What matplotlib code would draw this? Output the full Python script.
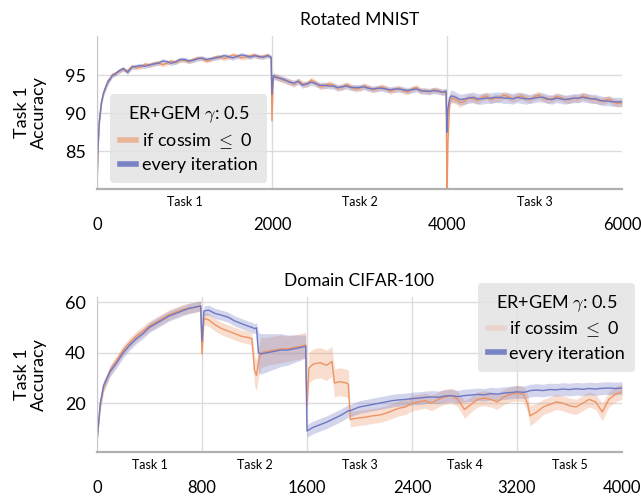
import matplotlib
matplotlib.use("Agg")
import matplotlib.pyplot as plt
import numpy as np

plt.rcParams['font.family'] = ['Lato', 'DejaVu Sans']
plt.rcParams['mathtext.fontset'] = 'cm'

ORANGE = '#ec9463'
BLUE = '#6e77c4'

# ---- Rotated MNIST (3 tasks, 2000 steps each) ----
mnist_steps = [0, 10, 25, 50, 75, 100, 125, 150, 175, 200, 250, 300, 350, 400, 450, 500, 550, 600,
               650, 700, 750, 800, 850, 900, 950, 1000, 1050, 1100, 1150, 1200, 1250, 1300,
               1350, 1400, 1450, 1500, 1550, 1600, 1650, 1700, 1750, 1800, 1850, 1900, 1950, 1990,
               2000, 2015, 2050, 2100, 2150, 2200, 2250, 2300, 2350, 2400, 2450, 2500, 2550,
               2600, 2650, 2700, 2750, 2800, 2850, 2900, 2950, 3000, 3050, 3100, 3150, 3200,
               3250, 3300, 3350, 3400, 3450, 3500, 3550, 3600, 3650, 3700, 3750, 3800, 3850,
               3900, 3950, 3990,
               4000, 4010, 4030, 4050, 4100, 4150, 4200, 4250, 4300, 4350, 4400, 4450, 4500,
               4550, 4600, 4650, 4700, 4750, 4800, 4850, 4900, 4950, 5000, 5050, 5100, 5150,
               5200, 5250, 5300, 5350, 5400, 5450, 5500, 5550, 5600, 5650, 5700, 5750, 5800,
               5850, 5900, 5950, 6000]
mnist_orange = [80.2, 84.5, 88.5, 91.3, 92.6, 93.4, 94.3, 94.6, 95.1, 95.2, 95.5, 95.8, 95.6, 96.2, 96.0,
                96.1, 96.5, 96.3, 96.6, 96.7, 96.4, 96.6, 96.9, 96.7, 97.0, 97.0, 96.8, 97.1, 97.3,
                97.2, 96.9, 97.1, 97.4, 97.5, 97.2, 97.4, 97.7, 97.6, 97.3, 97.4, 97.6, 97.7, 97.4,
                97.5, 97.7, 97.3,
                89.0, 94.7, 94.9, 94.5, 94.3, 94.2, 93.8, 94.3, 93.9, 93.8, 94.4, 94.0, 93.5,
                93.6, 93.9, 93.7, 93.3, 93.4, 93.8, 93.5, 93.2, 93.3, 93.6, 93.4, 93.1, 93.2,
                93.5, 93.3, 92.9, 93.1, 93.3, 93.0, 92.8, 93.2, 93.4, 92.9, 93.0, 92.8, 93.1,
                93.0, 92.7, 92.9,
                79.0, 86.0, 91.2, 92.0, 91.8, 91.4, 91.6, 92.1, 91.9, 91.7, 92.1, 92.3, 91.8,
                92.0, 92.0, 92.4, 92.2, 91.9, 92.1, 92.3, 92.0, 91.8, 92.2, 92.4, 92.0, 91.8,
                91.9, 92.2, 92.1, 91.8, 91.8, 92.0, 91.9, 92.3, 92.1, 91.9, 91.8, 91.6, 91.7,
                91.9, 91.5, 91.3, 91.4]
mnist_orange_sd = [0.5, 0.5, 0.5, 0.4, 0.4, 0.4, 0.4, 0.3, 0.3, 0.3, 0.3, 0.3, 0.3, 0.3, 0.3,
                   0.3, 0.3, 0.3, 0.3, 0.3, 0.3, 0.3, 0.3, 0.3, 0.3, 0.3, 0.3, 0.3, 0.3,
                   0.3, 0.3, 0.3, 0.3, 0.3, 0.3, 0.3, 0.3, 0.3, 0.3, 0.3, 0.3, 0.3, 0.3,
                   0.3, 0.3, 0.3,
                   1.0, 0.4, 0.4, 0.4, 0.4, 0.4, 0.4, 0.4, 0.4, 0.4, 0.4, 0.4, 0.4,
                   0.4, 0.4, 0.4, 0.4, 0.4, 0.4, 0.4, 0.4, 0.4, 0.4, 0.4, 0.4, 0.4,
                   0.4, 0.4, 0.4, 0.4, 0.4, 0.4, 0.4, 0.4, 0.4, 0.4, 0.4, 0.4, 0.4,
                   0.4, 0.4, 0.4,
                   0.5, 1.0, 0.7, 0.6, 0.6, 0.6, 0.5, 0.5, 0.5, 0.5, 0.5, 0.5, 0.5,
                   0.5, 0.5, 0.5, 0.5, 0.5, 0.5, 0.5, 0.5, 0.5, 0.5, 0.5, 0.5, 0.5,
                   0.5, 0.5, 0.5, 0.5, 0.5, 0.5, 0.5, 0.5, 0.5, 0.5, 0.5, 0.5, 0.5,
                   0.5, 0.5, 0.5, 0.5]
mnist_blue = [80.4, 85.0, 88.8, 91.4, 92.7, 93.5, 94.1, 94.5, 95.0, 95.1, 95.6, 95.9, 95.4, 96.1, 96.2,
              96.3, 96.2, 96.4, 96.5, 96.6, 96.9, 96.8, 96.6, 96.8, 97.1, 97.1, 96.9, 97.0, 97.2,
              97.3, 97.1, 97.2, 97.3, 97.4, 97.6, 97.5, 97.3, 97.5, 97.7, 97.6, 97.4, 97.6, 97.5,
              97.4, 97.6, 97.4,
              92.5, 95.0, 94.7, 94.6, 94.4, 94.1, 94.0, 94.2, 93.7, 93.9, 94.1, 93.9, 93.7,
              93.7, 93.6, 93.6, 93.4, 93.5, 93.6, 93.4, 93.4, 93.4, 93.5, 93.3, 93.2, 93.3,
              93.3, 93.2, 93.1, 93.2, 93.2, 93.1, 93.0, 93.1, 93.2, 93.0, 92.9, 92.9, 93.0,
              92.9, 92.8, 92.9,
              87.5, 90.5, 92.0, 92.3, 92.1, 91.8, 91.9, 92.0, 92.1, 91.9, 91.9, 92.0, 92.0,
              92.1, 92.1, 92.0, 92.0, 91.9, 92.1, 92.0, 91.9, 91.9, 92.0, 92.1, 92.1, 91.9,
              91.8, 92.0, 91.9, 91.8, 91.9, 92.0, 92.0, 92.1, 92.0, 91.9, 91.9, 91.7, 91.6,
              91.6, 91.5, 91.5, 91.5]
mnist_blue_sd = [0.5, 0.5, 0.5, 0.4, 0.4, 0.4, 0.4, 0.3, 0.3, 0.3, 0.3, 0.3, 0.3, 0.3, 0.3,
                 0.3, 0.3, 0.3, 0.3, 0.3, 0.3, 0.3, 0.3, 0.3, 0.3, 0.3, 0.3, 0.3, 0.3,
                 0.3, 0.3, 0.3, 0.3, 0.3, 0.3, 0.3, 0.3, 0.3, 0.3, 0.3, 0.3, 0.3, 0.3,
                 0.3, 0.3, 0.3,
                 0.8, 0.4, 0.4, 0.4, 0.4, 0.4, 0.4, 0.4, 0.4, 0.4, 0.4, 0.4, 0.4,
                 0.4, 0.4, 0.4, 0.4, 0.4, 0.4, 0.4, 0.4, 0.4, 0.4, 0.4, 0.4, 0.4,
                 0.4, 0.4, 0.4, 0.4, 0.4, 0.4, 0.4, 0.4, 0.4, 0.4, 0.4, 0.4, 0.4,
                 0.4, 0.4, 0.4,
                 1.0, 0.9, 0.8, 0.8, 0.7, 0.7, 0.7, 0.7, 0.7, 0.7, 0.7, 0.7, 0.7,
                 0.7, 0.7, 0.7, 0.7, 0.7, 0.7, 0.7, 0.7, 0.6, 0.6, 0.6, 0.6, 0.6,
                 0.6, 0.6, 0.6, 0.6, 0.6, 0.6, 0.6, 0.6, 0.6, 0.6, 0.6, 0.6, 0.6,
                 0.6, 0.6, 0.6, 0.6]
mnist_ticks = [0, 2000, 4000, 6000]
mnist_task_pos = [1000, 3000, 5000]
mnist_task_labels = ['Task 1', 'Task 2', 'Task 3']

# ---- Domain CIFAR-100 (5 tasks, 800 steps each) ----
cifar_steps = [0, 25, 50, 100, 150, 200, 250, 300, 350, 400, 450, 500, 550, 600, 650, 700, 750, 790,
               800, 815, 850, 900, 950, 1000, 1050, 1100, 1150, 1180, 1200, 1215, 1230, 1250,
               1300, 1350, 1400, 1450, 1500, 1550, 1590,
               1600, 1615, 1650, 1700, 1750, 1790, 1810, 1850, 1900, 1915, 1930, 1950,
               2000, 2050, 2100, 2150, 2200, 2250, 2300, 2350, 2400, 2450, 2500, 2550, 2600,
               2650, 2700, 2750, 2800, 2850, 2900, 2950, 3000, 3050, 3100, 3150, 3200,
               3250, 3280, 3300, 3350, 3400, 3450, 3500, 3550, 3600, 3650, 3700, 3750,
               3800, 3850, 3900, 3950, 4000]
cifar_orange = [5.5, 19, 26, 33, 37, 41, 44, 46.5, 48.5, 50.5, 52, 53.5, 55, 56, 57, 57.5, 58, 58.5,
                39.5, 53.5, 53, 51, 49.5, 48.5, 47.5, 46.5, 46, 45.5, 33, 31, 36, 40,
                40.5, 41, 41.5, 41.5, 42, 42.5, 43,
                19, 34, 35.5, 36, 35, 36.5, 28, 28.5, 28, 27.5, 13.5, 13.8,
                14.2, 14.5, 15, 15.3, 16, 17, 18, 18.5, 20, 20.5, 21, 20, 21.5,
                22.5, 23, 21.5, 17.5, 19.5, 21.5, 22, 21.5, 20.5, 22.5, 23.5, 24,
                23.5, 20, 15, 16.5, 18.5, 19.5, 20.5, 20, 19, 18.5, 20, 21.5,
                20.5, 16.5, 21.5, 23.5, 24.5]
cifar_orange_sd = [1.5, 2, 2, 2, 2, 2, 2, 2, 2, 2, 2, 2, 2, 2, 2, 2, 2, 2,
                   3, 2.5, 2.5, 2.5, 2.5, 2.5, 2.5, 2.5, 2.5, 2.5, 6, 6, 6, 6,
                   5.5, 5.5, 5.5, 5, 5, 5, 5,
                   3, 6, 6, 6, 6, 6, 5.5, 5.5, 5.5, 5.5, 3, 3,
                   3, 3, 3, 3, 3, 3, 3, 3, 3, 3, 3, 3, 3,
                   3, 3, 3, 3.5, 3, 3, 3, 3, 3, 3, 3, 3,
                   3, 3.5, 4, 3.5, 3, 3, 3, 3, 3, 3, 3, 3,
                   3, 3.5, 3, 3, 3]
cifar_blue = [5, 20, 27, 32.5, 36, 40, 43, 45.5, 47.5, 50, 51.5, 53, 54.5, 55.5, 56.5, 57.5, 58, 58.5,
              44.5, 56.5, 56.8, 55.5, 54.8, 54, 52.5, 51.5, 50.5, 50, 49.5, 49.8, 40, 39.5,
              40, 40.5, 41, 41, 41.5, 42, 42.5,
              9, 9.5, 10.5, 11.5, 12.5, 13.5, 14, 15, 16.5, 17, 17, 17.5,
              18.5, 19, 19.5, 20, 20.5, 21, 21.3, 21.5, 21.8, 22, 22.3, 22.5, 22.3,
              22.8, 23, 22.6, 23, 23.2, 23.5, 23.3, 23.8, 23.6, 24, 24.2, 24.5,
              24.3, 24.6, 25, 25.2, 25, 25.4, 25.3, 25.6, 25.4, 25.7, 25.5, 25.8,
              25.6, 25.9, 26, 25.8, 26]
cifar_blue_sd = [1.5, 2, 2, 2, 2, 2, 2, 2, 2, 2, 2, 2, 2, 2, 2, 2, 2, 2,
                 2, 2, 2, 2, 2, 2, 2, 2, 2, 2, 2, 2, 8, 8,
                 7.5, 7, 6.5, 6, 5.5, 5, 4.5,
                 2.5, 2.5, 2.5, 2.5, 2.5, 2.5, 2.5, 2.5, 2.5, 2.5, 2.5, 2.5,
                 2.5, 2.5, 2.5, 2.5, 2.5, 2.5, 2.5, 2.5, 2.5, 2.5, 2.5, 2.5, 2.5,
                 2.5, 2.5, 2.5, 2.5, 2.5, 2.5, 2.5, 2.5, 2.5, 2.5, 2.5, 2.5,
                 2.5, 2.5, 2.5, 2.5, 2.5, 2.5, 2.5, 2.5, 2.5, 2.5, 2.5, 2.5,
                 2.5, 2.5, 2.5, 2.5, 2.5]
cifar_ticks = [0, 800, 1600, 2400, 3200, 4000]
cifar_task_pos = [400, 1200, 2000, 2800, 3600]
cifar_task_labels = ['Task 1', 'Task 2', 'Task 3', 'Task 4', 'Task 5']

legend_title = r'ER+GEM $\gamma$: 0.5'
series_labels = [r'if cossim $\leq$ 0', 'every iteration']

fig = plt.figure(figsize=(6.41, 5.04), dpi=100)
ax1 = fig.add_axes([0.1513, 0.625, 0.819, 0.3036])
ax2 = fig.add_axes([0.1513, 0.1032, 0.819, 0.3075])


def draw_panel(ax, steps, means, sds, colors, title, ticks, task_pos, task_labels, yticks, ylim):
    x = np.array(steps)
    for m, s, c in zip(means, sds, colors):
        m = np.array(m)
        s = np.array(s)
        ax.fill_between(x, m - s, m + s, color=c, alpha=0.3, lw=0)
        ax.plot(x, m, color=c, lw=1.0)
    ax.set_xlim(ticks[0], ticks[-1])
    ax.set_ylim(*ylim)
    ax.set_yticks(yticks)
    ax.set_xticks(ticks)
    ax.set_xticks(task_pos, minor=True)
    ax.set_xticklabels(task_labels, minor=True, fontsize=9)
    ax.tick_params(axis='x', which='major', length=0, pad=20, labelsize=12)
    ax.tick_params(axis='x', which='minor', length=0, pad=5)
    ax.tick_params(axis='y', length=0, pad=8, labelsize=13)
    ax.grid(True, which='major', color='#dcdcdc', lw=1.0)
    ax.set_axisbelow(True)
    # hide the grid line that sits on the right edge
    ax.xaxis.get_gridlines()[-1].set_visible(False)
    for side in ['top', 'right']:
        ax.spines[side].set_visible(False)
    ax.spines['left'].set_color('#c8c8c8')
    ax.spines['bottom'].set_color('#b0b0b0')
    ax.spines['bottom'].set_linewidth(1.6)
    ax.set_title(title, fontsize=12.5, pad=8)
    ax.set_ylabel('Task 1\nAccuracy', fontsize=13, linespacing=1.1)
    ax.yaxis.set_label_coords(-0.095, 0.5)


assert len(mnist_steps) == len(mnist_orange) == len(mnist_blue) == len(mnist_orange_sd) == len(mnist_blue_sd)
assert len(cifar_steps) == len(cifar_orange) == len(cifar_blue) == len(cifar_orange_sd) == len(cifar_blue_sd)

draw_panel(ax1, mnist_steps, [mnist_orange, mnist_blue], [mnist_orange_sd, mnist_blue_sd],
           [ORANGE, BLUE], 'Rotated MNIST', mnist_ticks, mnist_task_pos, mnist_task_labels,
           [85, 90, 95], (80, 100.2))
draw_panel(ax2, cifar_steps, [cifar_orange, cifar_blue], [cifar_orange_sd, cifar_blue_sd],
           [ORANGE, BLUE], 'Domain CIFAR-100', cifar_ticks, cifar_task_pos, cifar_task_labels,
           [20, 40, 60], (0.7, 62))

legend_kw = dict(fontsize=13, title_fontsize=13, handlelength=0.9, handletextpad=0.3,
                 facecolor='#e3e3e3', edgecolor='none', framealpha=0.85, fancybox=True,
                 labelspacing=0.35, borderpad=0.55, borderaxespad=0)

h1 = [plt.Line2D([], [], color=ORANGE, lw=4, alpha=0.6),
      plt.Line2D([], [], color=BLUE, lw=4, alpha=0.9)]
ax1.legend(h1, series_labels, title=legend_title, loc='lower left',
           bbox_to_anchor=(0.025, 0.04), **legend_kw)

h2 = [plt.Line2D([], [], color=ORANGE, lw=4, alpha=0.2),
      plt.Line2D([], [], color=BLUE, lw=4, alpha=0.9)]
ax2.legend(h2, series_labels, title=legend_title, loc='upper right',
           bbox_to_anchor=(1.025, 1.09), **legend_kw)

fig.savefig('out.png', dpi=100)
